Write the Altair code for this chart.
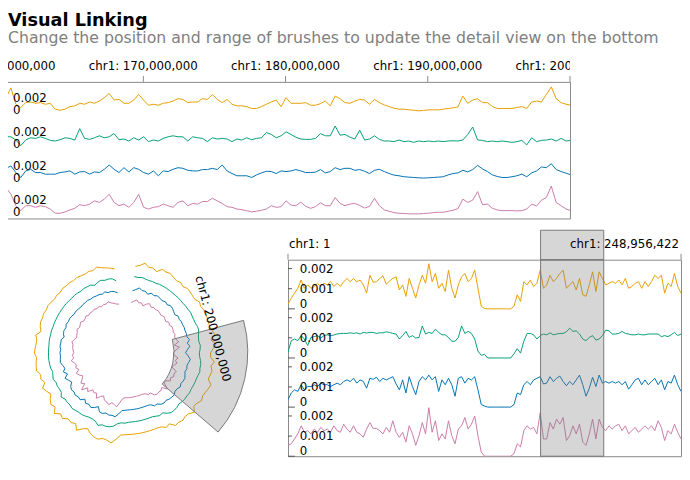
import altair as alt
import pandas as pd

CHR1_LEN = 248_956_422
TRACKS = ["orange", "green", "blue", "pink"]
COLORS = ["#E79F00", "#029F73", "#0072B2", "#CB7AA7"]
FONT = "DejaVu Sans"
FRAME = "#888"
UNIT = 1e-3  # the value lists below are written in thousandths

# whole chr1 (detail view and circular view), 121 equal bins
WHOLE_ORANGE = [
    0.24, 0.54, 0.78, 1.02, 1.43, 1.02, 1.19, 1.02, 1.11, 1.27,
    1.11, 1.27, 1.19, 1.35, 1.11, 1.27, 1.11, 1.35, 1.51, 1.35,
    1.51, 1.35, 1.43, 1.19, 0.78, 1.67, 1.32, 1.35, 1.51, 1.64,
    1.22, 1.38, 1.51, 1.59, 0.94, 1.19, 0.62, 1.51, 1.02, 0.54,
    1.19, 1.67, 1.27, 2.24, 1.35, 1.76, 1.02, 1.27, 0.86, 1.92,
    1.02, 0.54, 1.19, 1.59, 1.76, 1.35, 1.51, 1.92, 1.02, 0.13,
    0.02, 0, 0, 0, 0, 0, 0, 0, 0, 0.13,
    0.70, 0.37, 1.35, 1.19, 1.43, 1.11, 1.27, 1.92, 1.02, 1.19,
    1.67, 1.35, 1.51, 1.76, 1.92, 1.02, 1.19, 1.35, 0.94, 1.51,
    0.70, 0.62, 1.19, 1.84, 0.86, 1.84, 1.51, 1.19, 1.27, 1.35,
    1.27, 1.43, 1.19, 1.51, 1.02, 1.11, 1.27, 1.35, 1.02, 1.35,
    1.11, 1.35, 1.67, 1.51, 1.67, 0.78, 1.27, 1.11, 1.76, 1.11,
    0.78,
]
WHOLE_GREEN = [
    0.29, 0.86, 0.94, 0.86, 1.11, 0.94, 0.62, 1.02, 1.06, 1.11,
    0.99, 1.11, 1.15, 1.11, 1.14, 1.19, 1.22, 1.22, 1.22, 1.25,
    1.22, 1.25, 1.19, 1.27, 1.24, 1.27, 1.27, 1.22, 1.25, 1.25,
    1.30, 1.27, 1.22, 1.19, 0.94, 1.11, 1.32, 1.02, 1.11, 0.99,
    1.02, 1.59, 1.19, 1.27, 1.22, 1.43, 1.27, 1.15, 1.15, 1.02,
    0.83, 0.83, 1.02, 1.59, 1.22, 1.32, 1.22, 0.94, 0.34, 0.13,
    0.18, 0, 0, 0, 0, 0, 0, 0, 0, 0.21,
    0.46, 0.24, 0.83, 1.22, 1.22, 1.15, 0.94, 1.11, 1.19, 1.15,
    1.25, 1.15, 1.19, 1.22, 1.22, 1.30, 1.48, 1.32, 1.35, 1.19,
    0.94, 0.86, 1.02, 1.11, 0.89, 0.94, 1.11, 1.38, 1.35, 1.19,
    1.19, 1.22, 1.32, 1.22, 1.19, 1.15, 1.15, 1.19, 1.15, 1.15,
    1.19, 1.19, 1.19, 1.19, 1.06, 1.11, 1.06, 1.15, 1.27, 1.11,
    1.19,
]
WHOLE_BLUE = [
    0.37, 0.70, 0.86, 0.78, 1.11, 0.86, 1.02, 1.02, 1.11, 1.02,
    1.19, 1.11, 1.11, 1.02, 1.11, 1.19, 1.11, 1.27, 1.35, 1.27,
    1.43, 1.19, 1.35, 1.27, 0.94, 1.43, 1.38, 1.48, 1.27, 1.43,
    1.35, 1.43, 1.51, 1.15, 0.86, 1.35, 0.70, 1.51, 1.02, 0.62,
    1.27, 1.51, 1.35, 1.59, 1.35, 1.51, 0.78, 1.35, 1.11, 1.43,
    1.11, 0.54, 1.43, 1.51, 1.19, 1.43, 1.35, 1.51, 0.86, 0.13,
    0.05, 0, 0, 0, 0, 0, 0, 0, 0, 0.13,
    0.70, 0.62, 1.11, 1.27, 1.11, 1.35, 1.43, 1.51, 1.15, 1.19,
    1.51, 1.27, 1.43, 1.54, 1.27, 1.06, 1.27, 1.11, 1.35, 1.59,
    1.11, 0.54, 0.94, 1.48, 1.02, 1.59, 1.19, 1.27, 1.19, 1.27,
    1.19, 1.27, 1.11, 1.27, 0.89, 1.11, 1.35, 1.43, 1.11, 1.35,
    1.11, 1.27, 1.43, 1.11, 1.35, 0.86, 1.27, 1.19, 1.59, 1.11,
    0.78,
]
WHOLE_PINK = [
    0.54, 0.62, 0.86, 1.11, 1.51, 1.19, 1.27, 1.11, 1.35, 1.19,
    1.43, 1.27, 1.35, 1.19, 1.51, 1.27, 1.19, 1.59, 1.35, 1.19,
    1.51, 1.19, 1.11, 0.94, 1.35, 1.67, 1.38, 1.38, 1.27, 1.11,
    1.43, 1.19, 1.76, 1.19, 0.94, 1.19, 0.70, 1.51, 1.11, 0.54,
    1.02, 1.67, 1.11, 2.41, 1.19, 1.76, 0.78, 1.11, 0.86, 1.76,
    1.02, 0.62, 1.35, 1.51, 1.92, 1.35, 1.59, 2.00, 1.02, 0.21,
    0, 0, 0, 0, 0, 0, 0, 0, 0, 0.13,
    0.62, 0.46, 1.27, 1.51, 1.35, 1.43, 1.11, 2.16, 0.86, 0.86,
    1.67, 1.35, 1.84, 1.59, 1.92, 0.78, 1.02, 1.51, 1.11, 1.59,
    0.70, 0.54, 1.11, 1.84, 0.86, 1.84, 1.43, 1.27, 1.51, 1.35,
    1.51, 1.59, 1.27, 1.51, 1.11, 1.27, 1.43, 1.19, 1.35, 1.51,
    1.35, 1.51, 1.27, 1.76, 1.43, 0.78, 1.27, 1.11, 1.59, 1.19,
    0.86,
]
WHOLE_BIN = CHR1_LEN / 120

# overview, chr1:160,000,000-200,000,000, bins of 345.4 kb
OVERVIEW_START = 160_000_000
OVERVIEW_BIN = 345_400
OVERVIEW_ORANGE = [
    1.49, 2.04, 3.13, 1.31, 0.95, 1.49, 1.56, 1.42, 1.49, 1.31,
    1.42, 0.76, 0.65, 0.76, 1.05, 1.13, 1.42, 1.31, 1.56, 1.42,
    1.67, 2.04, 2.51, 1.78, 1.85, 1.42, 1.42, 1.78, 2.40, 1.78,
    1.20, 1.31, 1.20, 1.42, 1.49, 1.67, 1.93, 1.85, 1.49,
    1.56, 1.56, 1.93, 1.85, 2.40, 1.85, 1.49, 1.85, 1.31, 1.13,
    1.13, 1.05, 0.84, 0.84, 1.05, 1.31, 1.56, 1.78, 1.05, 2.04,
    1.42, 1.42, 1.42, 1.49, 1.20, 1.20, 1.38, 1.67, 1.13, 2.22,
    1.93, 1.49, 1.42, 1.67, 1.85, 1.78, 1.31, 1.85, 1.49,
    1.24, 1.05, 0.87, 0.76, 0.76, 0.69, 0.65, 0.58, 0.62, 0.69,
    0.69, 0.69, 0.76, 0.84, 0.91, 1.02, 2.22, 1.42, 1.78, 1.93,
    1.49, 1.49, 1.05, 0.84, 0.84, 0.84, 0.84, 0.95, 1.05, 0.84,
    1.56, 1.67, 1.56, 2.40, 3.24, 1.93, 1.49, 1.31, 1.20,
]
OVERVIEW_GREEN = [
    1.49, 1.49, 1.49, 1.13, 0.51, 1.13, 1.38, 1.31, 1.49, 1.31,
    1.09, 1.02, 1.16, 1.38, 1.31, 1.13, 2.40, 1.31, 1.20, 1.38,
    1.60, 1.38, 1.49, 1.85, 1.16, 1.24, 1.02, 1.38, 1.13, 1.49,
    0.95, 1.13, 1.02, 1.31, 1.49, 1.60, 1.49, 1.49, 1.02,
    1.49, 1.38, 1.31, 0.95, 1.38, 1.24, 1.31, 1.24, 0.95, 1.24,
    1.13, 1.38, 1.16, 1.31, 1.38, 1.96, 1.75, 1.38, 1.60, 2.04,
    1.75, 1.45, 1.24, 1.20, 1.20, 1.31, 1.85, 1.60, 1.60, 2.69,
    1.67, 1.75, 1.45, 1.24, 2.22, 1.13, 1.24, 1.60, 1.20,
    1.02, 1.02, 0.95, 1.13, 0.95, 1.02, 0.87, 1.02, 0.95, 1.02,
    0.95, 1.02, 0.95, 1.02, 1.05, 1.02, 1.13, 1.75, 2.58, 1.13,
    1.09, 0.95, 1.02, 0.95, 1.02, 0.95, 0.87, 0.95, 1.09, 0.58,
    1.38, 0.95, 1.09, 1.13, 1.24, 1.02, 1.31, 1.02, 1.09,
]
OVERVIEW_BLUE = [
    1.31, 1.78, 2.04, 1.31, 0.76, 1.49, 1.67, 1.31, 1.31, 1.13,
    1.13, 1.13, 1.31, 1.38, 1.49, 1.13, 1.38, 1.42, 1.13, 1.38,
    1.31, 1.67, 2.15, 1.67, 1.31, 1.85, 1.38, 1.85, 1.67, 1.31,
    1.13, 1.49, 0.95, 1.49, 1.42, 1.67, 1.85, 1.78, 1.56,
    1.49, 1.49, 1.64, 1.64, 1.78, 1.64, 2.15, 1.49, 1.20, 0.95,
    0.95, 0.95, 0.76, 1.05, 1.27, 1.45, 1.42, 1.20, 1.49, 1.42,
    1.49, 1.64, 1.49, 1.31, 1.31, 1.35, 1.64, 1.27, 1.42, 1.85,
    1.64, 1.78, 1.78, 1.56, 1.64, 1.45, 1.20, 1.56, 1.67,
    1.42, 1.20, 1.02, 0.95, 0.84, 0.80, 0.76, 0.73, 0.69, 0.73,
    0.76, 0.80, 0.84, 1.05, 1.20, 1.27, 1.56, 1.38, 1.64, 2.11,
    1.71, 1.42, 1.05, 0.87, 0.76, 0.76, 0.84, 0.95, 1.13, 0.84,
    1.27, 1.49, 1.93, 1.85, 2.29, 1.64, 1.42, 1.24, 1.05,
]
OVERVIEW_PINK = [
    1.96, 3.42, 2.69, 1.42, 0.87, 1.42, 1.42, 1.24, 1.42, 1.31,
    1.05, 0.58, 0.58, 0.73, 0.95, 1.13, 1.53, 1.42, 1.60, 1.96,
    1.78, 2.15, 2.69, 1.78, 1.42, 1.60, 1.24, 1.78, 2.69, 1.24,
    1.05, 1.24, 1.31, 1.60, 1.42, 1.24, 1.78, 1.96, 1.42,
    1.67, 1.60, 1.89, 1.89, 2.25, 1.96, 1.67, 1.31, 1.24, 1.05,
    0.98, 0.87, 0.73, 0.80, 0.91, 1.05, 1.42, 1.24, 1.31, 1.96,
    1.49, 1.42, 1.82, 1.35, 1.13, 1.31, 1.75, 1.42, 1.42, 2.33,
    1.67, 1.42, 1.60, 1.67, 1.45, 1.16, 1.35, 2.25, 1.42,
    0.95, 0.80, 0.65, 0.58, 0.55, 0.51, 0.51, 0.51, 0.55, 0.58,
    0.65, 0.69, 0.69, 0.80, 0.91, 1.09, 2.15, 1.78, 2.04, 2.98,
    1.53, 1.60, 1.13, 0.95, 0.87, 0.87, 0.87, 0.84, 0.87, 1.05,
    1.60, 1.38, 2.04, 2.33, 3.60, 1.78, 1.42, 1.05, 0.87,
]

BRUSH = (160_000_000, 200_000_000)
OVERVIEW_TICKS = [160_000_000, 170_000_000, 180_000_000, 190_000_000, 200_000_000]
DETAIL_ENDS = [1, CHR1_LEN]
OVERVIEW_Y_TICKS = [0, 0.002]
DETAIL_Y_TICKS = [0, 0.001, 0.002]
OVERVIEW_MAX = 0.0038   # y range of one overview track
DETAIL_MAX = 0.00244    # y range of one detail track
RING_MAX = 0.0025       # y range of one circular ring

# circular layout: clockwise degrees from 12 o'clock, genome runs counterclockwise
ARC_START, ARC_SPAN = 353, 346
RING_OUTER_BASE, RING_WIDTH = 84, 12.5


def long_table(series, start, step):
    rows = []
    for i, (name, vals) in enumerate(zip(TRACKS, series)):
        for k, v in enumerate(vals):
            rows.append({"track": name, "idx": i, "pos": start + k * step, "value": v * UNIT})
    df = pd.DataFrame(rows)
    return df


def tick_table(ticks, vmax):
    rows = []
    for i in range(len(TRACKS)):
        for t in ticks:
            rows.append({"y": t + (3 - i) * vmax, "label": f"{t:g}", "zero": t == 0})
    return pd.DataFrame(rows)


def y_axis(ticks, yscale, zero_dy):
    base = alt.Chart(ticks)
    y = alt.Y("y:Q", scale=yscale, axis=None)
    return [
        base.transform_filter("!datum.zero").mark_rule(color="#555")
        .encode(x=alt.value(0), x2=alt.value(4), y=y),
        base.transform_filter("datum.zero").mark_rule(color="#555")
        .encode(x=alt.value(0), x2=alt.value(7), y=y),
        base.transform_filter("!datum.zero").mark_text(align="left", baseline="middle", fontSize=12)
        .encode(x=alt.value(12), y=y, text="label:N"),
        base.transform_filter("datum.zero").mark_text(align="left", baseline="alphabetic", fontSize=12, dy=zero_dy)
        .encode(x=alt.value(12), y=y, text="label:N"),
    ]


color = alt.Color("track:N", scale=alt.Scale(domain=TRACKS, range=COLORS), legend=None)
frame = alt.ViewBackground(stroke=FRAME, strokeWidth=1)
no_frame = alt.ViewBackground(strokeWidth=0)
brush_df = pd.DataFrame({"start": [BRUSH[0]], "end": [BRUSH[1]]})
brush_style = dict(fill="#777", fillOpacity=0.3, stroke="#777", strokeWidth=1)

# ---- overview (top) ----
ov = long_table([OVERVIEW_ORANGE, OVERVIEW_GREEN, OVERVIEW_BLUE, OVERVIEW_PINK],
                OVERVIEW_START, OVERVIEW_BIN)
ov["y"] = ov["value"] + (3 - ov["idx"]) * OVERVIEW_MAX
ov_x = alt.Scale(domain=[OVERVIEW_TICKS[0], OVERVIEW_TICKS[-1]], nice=False, zero=False)
ov_y = alt.Scale(domain=[0, 4 * OVERVIEW_MAX], nice=False, zero=False)

ov_axis = pd.DataFrame({"pos": OVERVIEW_TICKS, "label": [f"chr1: {p:,}" for p in OVERVIEW_TICKS]})
ov_strip = alt.layer(
    alt.Chart(ov_axis).mark_text(fontSize=12, baseline="middle", clip=True)
    .encode(x=alt.X("pos:Q", scale=ov_x, axis=None), y=alt.value(9), text="label:N"),
    alt.Chart(ov_axis).mark_rule(color=FRAME)
    .encode(x=alt.X("pos:Q", scale=ov_x, axis=None), y=alt.value(19), y2=alt.value(25)),
).properties(width=579, height=25, view=no_frame)

ov_lines = alt.Chart(ov).mark_line(strokeWidth=1, clip=True).encode(
    x=alt.X("pos:Q", scale=ov_x, axis=None),
    y=alt.Y("y:Q", scale=ov_y, axis=None),
    color=color,
)
ov_tracks = alt.layer(ov_lines, *y_axis(tick_table(OVERVIEW_Y_TICKS, OVERVIEW_MAX), ov_y, -2)).properties(
    width=579, height=139, view=frame)

# ---- detail (bottom right) ----
dt = long_table([WHOLE_ORANGE, WHOLE_GREEN, WHOLE_BLUE, WHOLE_PINK], 0, WHOLE_BIN)
dt["y"] = dt["value"] + (3 - dt["idx"]) * DETAIL_MAX
dt_x = alt.Scale(domain=DETAIL_ENDS, nice=False, zero=False)
dt_y = alt.Scale(domain=[0, 4 * DETAIL_MAX], nice=False, zero=False)

dt_axis = pd.DataFrame({"pos": DETAIL_ENDS, "label": [f"chr1: {p:,}" for p in DETAIL_ENDS]})
dt_xx = alt.X("pos:Q", scale=dt_x, axis=None)
dt_strip = alt.layer(
    alt.Chart(brush_df).mark_rect(**brush_style).encode(
        x=alt.X("start:Q", scale=dt_x, axis=None), x2="end:Q", y=alt.value(2), y2=alt.value(32)),
    alt.Chart(dt_axis).transform_filter("datum.pos == 1").mark_text(fontSize=12, align="left", dx=1)
    .encode(x=dt_xx, y=alt.value(16), text="label:N"),
    alt.Chart(dt_axis).transform_filter("datum.pos > 1").mark_text(fontSize=12, align="right", dx=-2)
    .encode(x=dt_xx, y=alt.value(16), text="label:N"),
    alt.Chart(dt_axis).mark_rule(color=FRAME).encode(x=dt_xx, y=alt.value(26), y2=alt.value(32)),
).properties(width=400, height=32, view=no_frame)

dt_lines = alt.Chart(dt).mark_line(strokeWidth=1, clip=True).encode(
    x=dt_xx, y=alt.Y("y:Q", scale=dt_y, axis=None), color=color)
dt_brush = alt.Chart(brush_df).mark_rect(**brush_style).encode(
    x=alt.X("start:Q", scale=dt_x, axis=None), x2="end:Q", y=alt.value(0), y2=alt.value(200))
dt_tracks = alt.layer(dt_lines, dt_brush, *y_axis(tick_table(DETAIL_Y_TICKS, DETAIL_MAX), dt_y, -1)).properties(
    width=400, height=200, view=frame)

# ---- circular (bottom left) ----
ang = f"({ARC_START} - datum.pos / {CHR1_LEN} * {ARC_SPAN}) * PI / 180"
c_x = alt.Scale(domain=[-126, 126], nice=False, zero=False)
c_y = alt.Scale(domain=[-126, 126], nice=False, zero=False)

rings = alt.Chart(dt).transform_calculate(
    a=ang,
    r=f"{RING_OUTER_BASE} - datum.idx * {RING_WIDTH} + datum.value / {RING_MAX} * {RING_WIDTH}",
).transform_calculate(
    cx="datum.r * sin(datum.a)", cy="datum.r * cos(datum.a)"
).mark_line(strokeWidth=1).encode(
    x=alt.X("cx:Q", scale=c_x, axis=None),
    y=alt.Y("cy:Q", scale=c_y, axis=None),
    order="pos:Q",
    color=color,
)

wedge = alt.Chart(brush_df).transform_calculate(
    t0=f"({ARC_START} - datum.end / {CHR1_LEN} * {ARC_SPAN}) * PI / 180",
    t1=f"({ARC_START} - datum.start / {CHR1_LEN} * {ARC_SPAN}) * PI / 180",
).mark_arc(radius=125, radius2=50, **brush_style).encode(
    theta=alt.Theta("t0:Q", scale=None), theta2=alt.Theta2("t1"))

label_pos = BRUSH[1]
label_deg = round(ARC_START - label_pos / CHR1_LEN * ARC_SPAN)
c_label_df = pd.DataFrame({"pos": [label_pos], "label": [f"chr1: {label_pos:,}"], "r": [93]})
c_label = alt.Chart(c_label_df).transform_calculate(a=ang).transform_calculate(
    cx="datum.r * sin(datum.a)", cy="datum.r * cos(datum.a)"
).mark_text(fontSize=12, angle=label_deg, align="center", baseline="middle").encode(
    x=alt.X("cx:Q", scale=c_x, axis=None), y=alt.Y("cy:Q", scale=c_y, axis=None), text="label:N")

circle = alt.layer(rings, wedge, c_label).properties(width=252, height=252, view=no_frame)

top_block = alt.vconcat(ov_strip, ov_tracks, spacing=0, bounds="flush")
detail_block = alt.vconcat(dt_strip, dt_tracks, spacing=0, bounds="flush")
bottom = alt.hconcat(circle, detail_block, spacing=38)

chart = alt.vconcat(top_block, bottom, spacing=9).properties(
    title=alt.TitleParams(
        text="Visual Linking",
        subtitle="Change the position and range of brushes to update the detail view on the bottom",
        anchor="start", dx=8, offset=12,
        font=FONT, fontSize=18, fontWeight="bold", color="black",
        subtitleFont=FONT, subtitleFontSize=16, subtitleColor="#808080", subtitlePadding=0,
    ),
    padding={"left": -8, "top": 0, "right": 0, "bottom": 0},
).configure(font=FONT).configure_view(strokeWidth=0)

chart.save("out.html", embed_options={"renderer": "svg", "actions": False})
